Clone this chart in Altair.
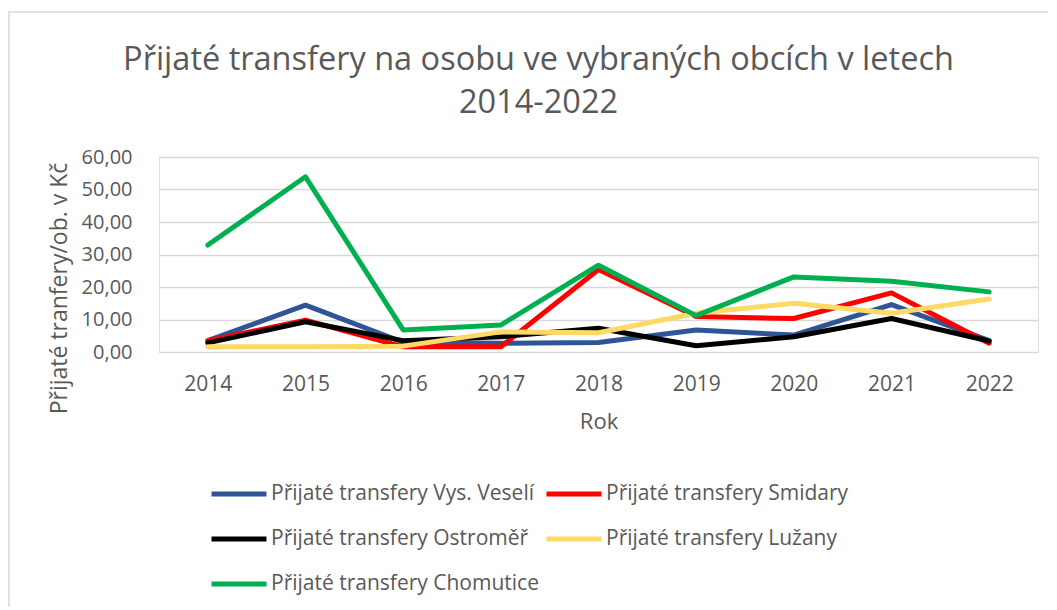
import altair as alt
import pandas as pd

years = ["2014", "2015", "2016", "2017", "2018", "2019", "2020", "2021", "2022"]
vys_veseli = [3.5, 14.4, 3.0, 2.7, 2.9, 6.8, 5.2, 14.6, 3.5]
smidary = [3.5, 9.8, 1.6, 1.6, 25.4, 10.9, 10.3, 18.2, 2.7]
ostromer = [2.8, 9.3, 3.5, 4.7, 7.3, 1.9, 4.7, 10.3, 3.4]
luzany = [1.6, 1.6, 1.8, 6.2, 5.9, 11.9, 15.0, 11.9, 16.3]
chomutice = [32.9, 53.9, 6.8, 8.3, 26.7, 11.2, 23.1, 21.8, 18.5]

series_names = [
    "Přijaté transfery Vys. Veselí",
    "Přijaté transfery Smidary",
    "Přijaté transfery Ostroměř",
    "Přijaté transfery Lužany",
    "Přijaté transfery Chomutice",
]
series_values = [vys_veseli, smidary, ostromer, luzany, chomutice]
series_colors = ["#2F5597", "#FF0000", "#000000", "#FFD966", "#00B050"]

# legend is filled column by column: reorder so it reads row by row
legend_order = [0, 2, 4, 1, 3]
legend_domain = [series_names[i] for i in legend_order]
legend_range = [series_colors[i] for i in legend_order]

rows = []
for i, (name, vals) in enumerate(zip(series_names, series_values)):
    for y, v in zip(years, vals):
        rows.append({"Rok": y, "Hodnota": v, "Serie": name, "idx": i})
df = pd.DataFrame(rows)

FONT = "Open Sans"
GREY = "#595959"

x_enc = alt.X("Rok:O", scale=alt.Scale(type="point", padding=0.5),
              axis=alt.Axis(title="Rok", labelAngle=0, ticks=False, domain=False,
                            labelPadding=21, labelFontSize=21, labelColor=GREY,
                            titleFontSize=22, titleColor=GREY, titleFontWeight="normal",
                            titlePadding=17, labelFont=FONT, titleFont=FONT))
y_enc = alt.Y("Hodnota:Q", scale=alt.Scale(domain=[0, 60]),
              axis=alt.Axis(title="Přijaté tranfery/ob. v Kč", values=[0, 10, 20, 30, 40, 50, 60],
                            labelExpr="replace(format(datum.value, '.2f'), '.', ',')",
                            ticks=False, domain=False, labelPadding=27,
                            labelFontSize=20, labelColor=GREY, titleFontSize=23,
                            titleColor=GREY, titleFontWeight="normal",
                            titleX=-100, titleY=131, titleBaseline="middle", titleAlign="center",
                            gridColor="#D9D9D9", gridWidth=1.5, labelFont=FONT, titleFont=FONT))
color_enc = alt.Color("Serie:N", scale=alt.Scale(domain=legend_domain, range=legend_range),
                      legend=alt.Legend(title=None, orient="none", legendX=50, legendY=307,
                                        columns=2, symbolType="stroke", symbolSize=3025,
                                        symbolStrokeWidth=5, labelFontSize=21, labelColor=GREY,
                                        labelFont=FONT, rowPadding=5, columnPadding=-3,
                                        labelOffset=2, labelLimit=400))

border = alt.Chart(pd.DataFrame({"b": [0]})).mark_rect(
    fill=None, stroke="#D9D9D9", strokeWidth=1.5
).encode(x=alt.value(-150), x2=alt.value(905), y=alt.value(-145), y2=alt.value(480))

layers = [border]
for name in series_names:
    layers.append(
        alt.Chart(df).transform_filter(alt.datum.Serie == name)
        .mark_line(strokeWidth=5, strokeCap="round", strokeJoin="round")
        .encode(x=x_enc, y=y_enc, color=color_enc)
    )

chart = alt.layer(*layers).properties(
    width=879,
    height=195,
    title=alt.TitleParams(
        ["Přijaté transfery na osobu ve vybraných obcích v letech", "2014-2022"],
        fontSize=32.5, font=FONT, color=GREY, fontWeight="normal", lineHeight=43,
        anchor="middle", dx=-60, offset=-108,
    ),
    autosize=alt.AutoSizeParams(type="none"),
    padding={"left": 151, "top": 149, "right": 10, "bottom": 255},
).configure_view(stroke=None).configure(background="white")

chart.save("out.html", embed_options={"renderer": "svg", "actions": False})
